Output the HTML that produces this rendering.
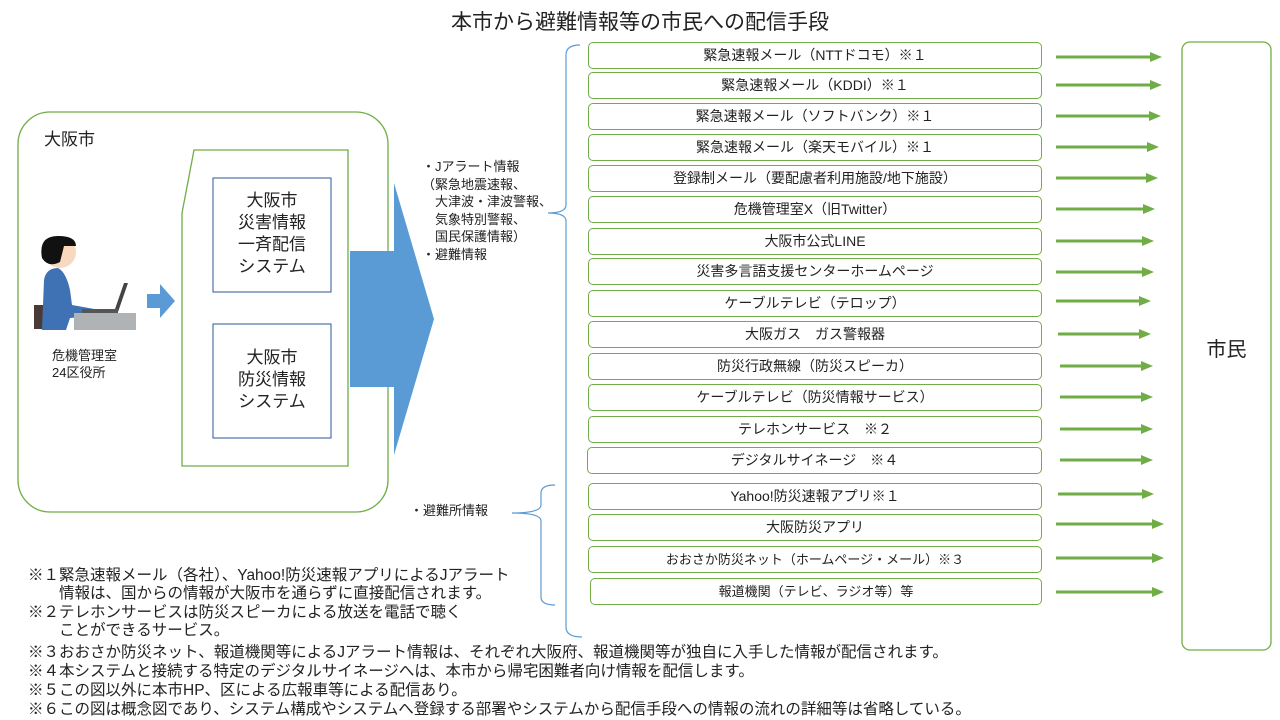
<!DOCTYPE html>
<html><head><meta charset="utf-8"><style>
body{margin:0;width:1280px;height:720px;background:#fff;position:relative;overflow:hidden;font-family:"Liberation Sans","Noto Sans CJK JP",sans-serif;color:#222}
.t{position:absolute;white-space:nowrap}
.b{position:absolute;left:588px;width:452px;height:25px;border:1.3px solid #70ad47;border-radius:5px;text-align:center;font-size:14px;line-height:25px;background:#fff}
.n{position:absolute;left:28px;font-size:15.5px;white-space:nowrap;line-height:18px}
</style></head><body>
<svg width="1280" height="720" style="position:absolute;left:0;top:0">
<rect x="18" y="112" width="370" height="400" rx="32" fill="none" stroke="#70ad47" stroke-width="1.3"/>
<polygon points="194,150 348,150 348,466 182,466 182,213" fill="none" stroke="#70ad47" stroke-width="1.3"/>
<rect x="213" y="178" width="118" height="114" fill="none" stroke="#2e5597" stroke-width="1"/>
<rect x="213" y="324" width="118" height="114" fill="none" stroke="#2e5597" stroke-width="1"/>
<polygon points="147,294 160,294 160,284 175,301 160,318 160,308 147,308" fill="#5b9bd5"/>
<polygon points="350,251 394,251 394,183 434,319 394,455 394,387 350,387" fill="#5b9bd5"/>
<path d="M580,45 Q566,45 566,55 L566,205 Q566,213 548,213 Q566,213 566,221 L566,627 Q566,637 582,637" fill="none" stroke="#5b9bd5" stroke-width="1.2"/>
<path d="M555,485 Q541,485 541,493 L541,505 Q541,513 512,513 Q541,513 541,521 L541,597 Q541,605 555,605" fill="none" stroke="#5b9bd5" stroke-width="1.2"/>
<rect x="1182" y="42" width="89" height="608" rx="8" fill="none" stroke="#70ad47" stroke-width="1.3"/>
<g stroke="#70ad47" stroke-width="3" fill="#70ad47">
<line x1="1056" y1="57" x2="1152" y2="57"/><polygon points="1150,52 1162,57 1150,62" stroke="none"/>
<line x1="1056" y1="85" x2="1152" y2="85"/><polygon points="1150,80 1162,85 1150,90" stroke="none"/>
<line x1="1056" y1="116" x2="1151" y2="116"/><polygon points="1149,111 1161,116 1149,121" stroke="none"/>
<line x1="1056" y1="147" x2="1149" y2="147"/><polygon points="1147,142 1159,147 1147,152" stroke="none"/>
<line x1="1056" y1="178" x2="1148" y2="178"/><polygon points="1146,173 1158,178 1146,183" stroke="none"/>
<line x1="1056" y1="209" x2="1145" y2="209"/><polygon points="1143,204 1155,209 1143,214" stroke="none"/>
<line x1="1056" y1="241" x2="1144" y2="241"/><polygon points="1142,236 1154,241 1142,246" stroke="none"/>
<line x1="1056" y1="272" x2="1144" y2="272"/><polygon points="1142,267 1154,272 1142,277" stroke="none"/>
<line x1="1056" y1="301" x2="1141" y2="301"/><polygon points="1139,296 1151,301 1139,306" stroke="none"/>
<line x1="1058" y1="334" x2="1141" y2="334"/><polygon points="1139,329 1151,334 1139,339" stroke="none"/>
<line x1="1060" y1="366" x2="1143" y2="366"/><polygon points="1141,361 1153,366 1141,371" stroke="none"/>
<line x1="1060" y1="397" x2="1143" y2="397"/><polygon points="1141,392 1153,397 1141,402" stroke="none"/>
<line x1="1060" y1="429" x2="1143" y2="429"/><polygon points="1141,424 1153,429 1141,434" stroke="none"/>
<line x1="1060" y1="460" x2="1143" y2="460"/><polygon points="1141,455 1153,460 1141,465" stroke="none"/>
<line x1="1058" y1="494" x2="1144" y2="494"/><polygon points="1142,489 1154,494 1142,499" stroke="none"/>
<line x1="1056" y1="524" x2="1154" y2="524"/><polygon points="1152,519 1164,524 1152,529" stroke="none"/>
<line x1="1056" y1="558" x2="1154" y2="558"/><polygon points="1152,553 1164,558 1152,563" stroke="none"/>
<line x1="1056" y1="592" x2="1154" y2="592"/><polygon points="1152,587 1164,592 1152,597" stroke="none"/>
</g>
<!-- person -->
<rect x="34" y="305" width="12" height="24" fill="#4a3a35"/>
<path d="M44,280 Q46,268 58,268 Q66,272 70,290 L72,305 L100,310 L100,316 L70,318 L66,330 L42,330 Z" fill="#3f72b5"/>
<circle cx="60" cy="252" r="16" fill="#f8d9c0"/>
<path d="M42,258 Q38,236 58,236 Q76,236 76,246 L64,246 L60,262 Q48,268 42,258Z" fill="#111"/>
<rect x="74" y="313" width="62" height="17" fill="#b0b3b5"/>
<polygon points="124,283 128,283 118,312 114,312" fill="#444"/>
<rect x="82" y="309" width="36" height="4" fill="#555"/>
</svg>
<div class="t" style="left:0;width:1280px;top:6px;text-align:center;font-size:21px">本市から避難情報等の市民への配信手段</div>
<div class="t" style="left:44px;top:125px;font-size:17px">大阪市</div>
<div class="t" style="left:213px;width:118px;top:190px;text-align:center;font-size:17px;line-height:22px">大阪市<br>災害情報<br>一斉配信<br>システム</div>
<div class="t" style="left:213px;width:118px;top:347px;text-align:center;font-size:17px;line-height:22px">大阪市<br>防災情報<br>システム</div>
<div class="t" style="left:52px;top:347px;font-size:13px;line-height:17px">危機管理室<br>24区役所</div>
<div class="t" style="left:422px;top:158px;font-size:13px;line-height:17.5px">・Jアラート情報<br>（緊急地震速報、<br>　大津波・津波警報、<br>　気象特別警報、<br>　国民保護情報）<br>・避難情報</div>
<div class="t" style="left:410px;top:500px;font-size:13px">・避難所情報</div>
<div class="t" style="left:1182px;width:89px;top:333px;text-align:center;font-size:20px">市民</div>
<div class="b" style="top:42px">緊急速報メール（NTTドコモ）※１</div>
<div class="b" style="top:72px">緊急速報メール（KDDI）※１</div>
<div class="b" style="top:103px">緊急速報メール（ソフトバンク）※１</div>
<div class="b" style="top:134px">緊急速報メール（楽天モバイル）※１</div>
<div class="b" style="top:165px">登録制メール（要配慮者利用施設/地下施設）</div>
<div class="b" style="top:196px">危機管理室X（旧Twitter）</div>
<div class="b" style="top:228px">大阪市公式LINE</div>
<div class="b" style="top:258px">災害多言語支援センターホームページ</div>
<div class="b" style="top:290px">ケーブルテレビ（テロップ）</div>
<div class="b" style="top:321px">大阪ガス　ガス警報器</div>
<div class="b" style="top:353px">防災行政無線（防災スピーカ）</div>
<div class="b" style="top:384px">ケーブルテレビ（防災情報サービス）</div>
<div class="b" style="top:416px">テレホンサービス　※２</div>
<div class="b" style="top:447px;left:587px;width:453px">デジタルサイネージ　※４</div>
<div class="b" style="top:483px">Yahoo!防災速報アプリ※１</div>
<div class="b" style="top:514px">大阪防災アプリ</div>
<div class="b" style="top:546px;font-size:13px">おおさか防災ネット（ホームページ・メール）※３</div>
<div class="b" style="top:578px;left:590px;width:450px;font-size:13px">報道機関（テレビ、ラジオ等）等</div>
<div class="n" style="top:567px">※１緊急速報メール（各社）、Yahoo!防災速報アプリによるJアラート<br>　　情報は、国からの情報が大阪市を通らずに直接配信されます。</div>
<div class="n" style="top:604px">※２テレホンサービスは防災スピーカによる放送を電話で聴く<br>　　ことができるサービス。</div>
<div class="n" style="top:644px">※３おおさか防災ネット、報道機関等によるJアラート情報は、それぞれ大阪府、報道機関等が独自に入手した情報が配信されます。</div>
<div class="n" style="top:663px">※４本システムと接続する特定のデジタルサイネージへは、本市から帰宅困難者向け情報を配信します。</div>
<div class="n" style="top:682px">※５この図以外に本市HP、区による広報車等による配信あり。</div>
<div class="n" style="top:701px">※６この図は概念図であり、システム構成やシステムへ登録する部署やシステムから配信手段への情報の流れの詳細等は省略している。</div>
</body></html>
